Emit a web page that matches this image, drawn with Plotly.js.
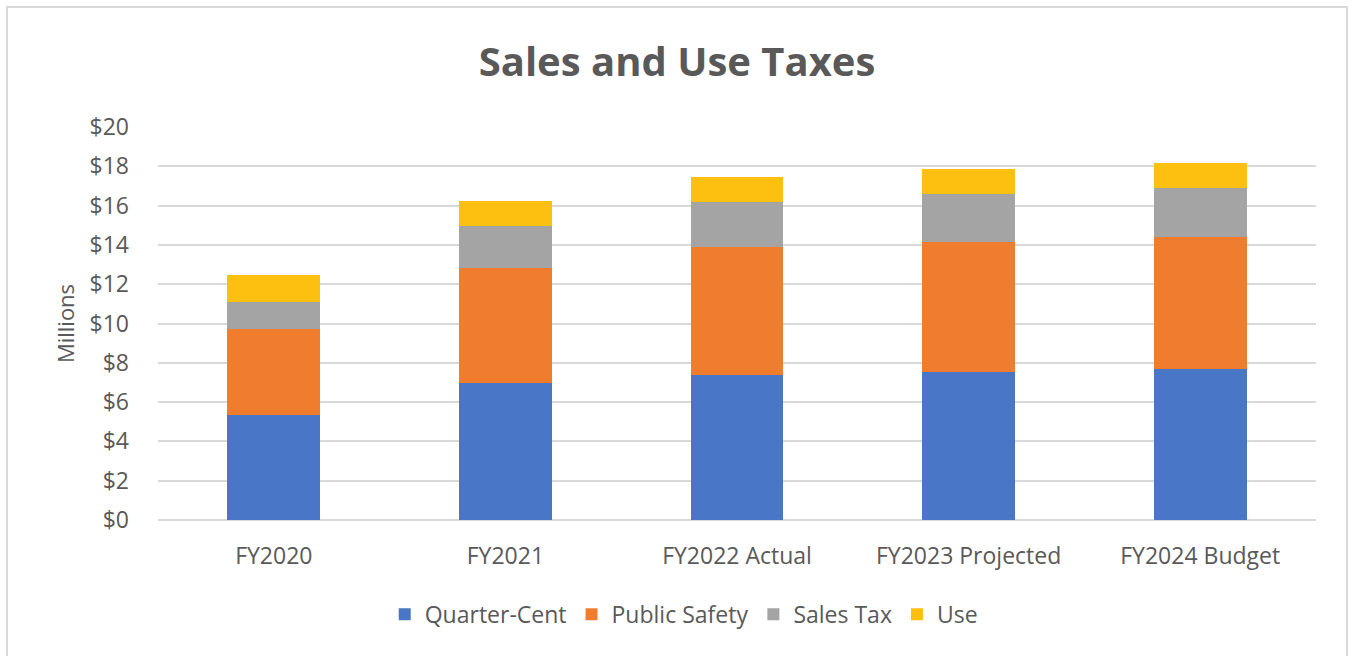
<!DOCTYPE html>
<html>
<head>
<meta charset="utf-8">
<script src="https://cdn.plot.ly/plotly-3.0.1.min.js"></script>
<style>
  html, body { margin: 0; padding: 0; background: #ffffff; }
  #wrap { position: relative; width: 1354px; height: 656px; }
  #chart { position: absolute; left: 0; top: 0; width: 1354px; height: 656px; }
  #frame { position: absolute; left: 6px; top: 6px; width: 1342px; height: 660px; border: 2px solid #d9d9d9; box-sizing: border-box; pointer-events: none; }
</style>
</head>
<body>
<div id="wrap">
  <div id="chart"></div>
  <div id="frame"></div>
</div>
<script>
const categories = ["FY2020", "FY2021", "FY2022 Actual", "FY2023 Projected", "FY2024 Budget"];
const quarterCent = [5.32, 6.95, 7.39, 7.55, 7.69];
const publicSafety = [4.42, 5.88, 6.48, 6.59, 6.69];
const salesTax = [1.35, 2.13, 2.33, 2.47, 2.50];
const useTax = [1.37, 1.27, 1.24, 1.23, 1.30];
const yTickVals = [0, 2, 4, 6, 8, 10, 12, 14, 16, 18, 20];
const yTickText = ["$0", "$2", "$4", "$6", "$8", "$10", "$12", "$14", "$16", "$18", "$20"];

const fontFam = "Open Sans, Noto Sans, sans-serif";
const grey = "#595959";

function bar(name, vals, color) {
  return {
    type: "bar", name: name, x: categories, y: vals,
    marker: { color: color, line: { width: 0 } },
    hoverinfo: "x+y+name"
  };
}

const data = [
  bar("Quarter-Cent", quarterCent, "#4a76c8"),
  bar("Public Safety", publicSafety, "#f07d2e"),
  bar("Sales Tax", salesTax, "#a4a4a4"),
  bar("Use", useTax, "#fdc010")
];

const layout = {
  width: 1354, height: 656,
  paper_bgcolor: "#ffffff", plot_bgcolor: "#ffffff",
  margin: { l: 158, r: 38, t: 127, b: 136 },
  barmode: "stack",
  bargap: 0.6,
  title: {
    text: "<b>Sales and Use Taxes</b>",
    x: 0.5, xref: "container", xanchor: "center",
    y: 1 - 62 / 656, yref: "container", yanchor: "middle",
    font: { family: fontFam, size: 40, color: grey }
  },
  xaxis: {
    type: "category",
    tickfont: { family: fontFam, size: 23, color: grey },
    showgrid: false, showline: false, zeroline: false,
    ticks: "", ticklabelstandoff: 20
  },
  yaxis: {
    range: [0, 20],
    tickvals: yTickVals, ticktext: yTickText,
    tickfont: { family: fontFam, size: 23, color: grey },
    showgrid: true, gridcolor: "#d9d9d9", gridwidth: 1.5,
    zeroline: true, zerolinecolor: "#d9d9d9", zerolinewidth: 2,
    showline: false, ticks: "", ticklabelstandoff: 28,
    title: { text: "Millions", font: { family: fontFam, size: 22, color: grey }, standoff: 8 }
  },
  legend: {
    orientation: "h",
    x: 0.454, xanchor: "center",
    y: -0.24, yanchor: "middle",
    font: { family: fontFam, size: 23, color: grey },
    traceorder: "normal",
    itemwidth: 30
  },
  showlegend: true
};

Plotly.newPlot("chart", data, layout, { displayModeBar: false, staticPlot: false });
</script>
</body>
</html>
